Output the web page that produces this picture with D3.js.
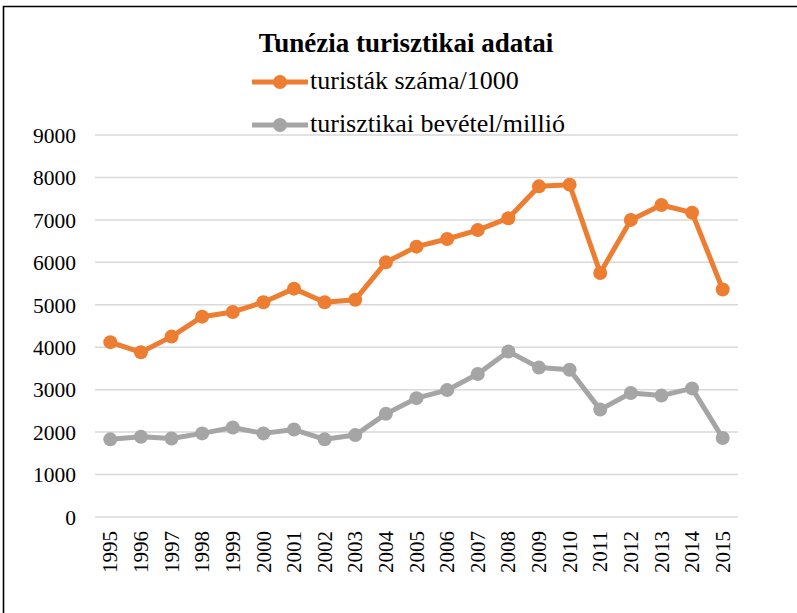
<!DOCTYPE html>
<html>
<head>
<meta charset="utf-8">
<script src="https://cdn.jsdelivr.net/npm/d3@7"></script>
</head>
<body style="margin:0">
<svg id="chart" width="797" height="613"></svg>
<script>
// data
const years = ["1995","1996","1997","1998","1999","2000","2001","2002","2003","2004",
  "2005","2006","2007","2008","2009","2010","2011","2012","2013","2014","2015"];
const touristsPer1000 = [4120, 3880, 4250, 4720, 4830, 5060, 5380, 5060, 5120, 6000,
  6370, 6550, 6760, 7040, 7790, 7830, 5750, 7000, 7350, 7170, 5360];
const revenueMillion = [1830, 1890, 1850, 1970, 2110, 1970, 2060, 1830, 1930, 2430,
  2800, 2990, 3370, 3900, 3520, 3470, 2530, 2920, 2860, 3030, 1860];
const yTicks = [0, 1000, 2000, 3000, 4000, 5000, 6000, 7000, 8000, 9000];

const series = [
  { name: "turisták száma/1000", values: touristsPer1000, color: "#ED7D31" },
  { name: "turisztikai bevétel/millió", values: revenueMillion, color: "#A5A5A5" }
];

const FONT = "'Liberation Serif'";
const svg = d3.select("#chart");
const plot = { left: 95, right: 738, top: 135, bottom: 517 };

// chart frame (only top and left edges fall inside the picture)
svg.append("path")
  .attr("d", "M3.5,613 V6.5 H797")
  .attr("fill", "none")
  .attr("stroke", "#000")
  .attr("stroke-width", 1.6);

const x = d3.scaleBand().domain(years).range([plot.left, plot.right]);
const y = d3.scaleLinear().domain([0, 9000]).range([plot.bottom, plot.top]);

// gridlines
svg.append("g")
  .selectAll("line")
  .data(yTicks)
  .enter()
  .append("line")
  .attr("x1", plot.left)
  .attr("x2", plot.right)
  .attr("y1", d => y(d))
  .attr("y2", d => y(d))
  .attr("stroke", "#d9d9d9")
  .attr("stroke-width", 1.5);

// y axis labels
const yAxis = svg.append("g")
  .attr("transform", "translate(" + (plot.left - 19) + ",0)")
  .call(d3.axisLeft(y).tickValues(yTicks).tickSize(0).tickPadding(0).tickFormat(d3.format("d")));
yAxis.select(".domain").remove();
yAxis.attr("font-family", null).attr("font-size", null);
yAxis.selectAll("text")
  .style("font-family", FONT)
  .style("font-size", "21.5px")
  .attr("fill", "#000")
  .attr("dy", "0.34em");

// x axis labels, rotated
const xAxis = svg.append("g")
  .attr("transform", "translate(0," + plot.bottom + ")")
  .call(d3.axisBottom(x).tickSize(0).tickPadding(0));
xAxis.select(".domain").remove();
xAxis.attr("font-family", null).attr("font-size", null);
xAxis.selectAll("text")
  .style("font-family", FONT)
  .style("font-size", "21px")
  .attr("fill", "#000")
  .attr("transform", "rotate(-90)")
  .attr("x", -14)
  .attr("y", 0)
  .attr("dy", "0.34em")
  .style("text-anchor", "end");

// lines and markers
const line = d3.line()
  .x((d, i) => x(years[i]) + x.bandwidth() / 2)
  .y(d => y(d));

series.forEach(s => {
  svg.append("path")
    .datum(s.values)
    .attr("fill", "none")
    .attr("stroke", s.color)
    .attr("stroke-width", 5)
    .attr("stroke-linejoin", "round")
    .attr("d", line);

  svg.append("g")
    .selectAll("circle")
    .data(s.values)
    .enter()
    .append("circle")
    .attr("cx", (d, i) => x(years[i]) + x.bandwidth() / 2)
    .attr("cy", d => y(d))
    .attr("r", 7)
    .attr("fill", s.color);
});

// title
svg.append("text")
  .attr("x", 406)
  .attr("y", 52)
  .attr("text-anchor", "middle")
  .style("font-family", FONT)
  .style("font-weight", "bold")
  .style("font-size", "27px")
  .attr("fill", "#000")
  .text("Tunézia turisztikai adatai");

// legend
const legendY = [82, 125];
series.forEach((s, i) => {
  const g = svg.append("g").attr("transform", "translate(252," + legendY[i] + ")");
  g.append("line")
    .attr("x1", 0).attr("x2", 56)
    .attr("stroke", s.color)
    .attr("stroke-width", 5);
  g.append("circle")
    .attr("cx", 28)
    .attr("r", 7)
    .attr("fill", s.color);
  g.append("text")
    .attr("x", 58)
    .attr("y", 7)
    .style("font-family", FONT)
    .style("font-size", "26px")
    .attr("fill", "#000")
    .text(s.name);
});
</script>
</body>
</html>
